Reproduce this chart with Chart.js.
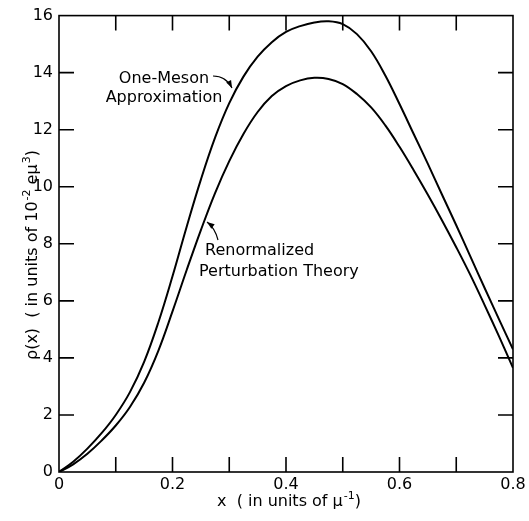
<!DOCTYPE html>
<html>
<head>
<meta charset="utf-8">
<script src="https://cdn.jsdelivr.net/npm/chart.js@4/dist/chart.umd.min.js"></script>
<style>
  html, body { margin: 0; padding: 0; background: #fff; }
  #wrap { width: 529px; height: 521px; }
</style>
</head>
<body>
<div id="wrap"><canvas id="myChart"></canvas></div>
<script>
const xValues = [0, 0.025, 0.05, 0.075, 0.1, 0.125, 0.15, 0.175, 0.2, 0.225, 0.25, 0.275, 0.3, 0.325, 0.35, 0.375,
  0.4, 0.425, 0.45, 0.475, 0.5, 0.525, 0.55, 0.575, 0.6, 0.625, 0.65, 0.675, 0.7, 0.725, 0.75, 0.775, 0.8];
const oneMeson = [0, 0.36, 0.82, 1.36, 2.0, 2.8, 3.86, 5.24, 6.86, 8.6, 10.25, 11.72, 12.93, 13.86, 14.56, 15.07,
  15.43, 15.63, 15.76, 15.8, 15.7, 15.35, 14.75, 13.9, 12.9, 11.85, 10.8, 9.72, 8.65, 7.55, 6.45, 5.37, 4.3];
const renormalized = [0, 0.27, 0.64, 1.1, 1.63, 2.28, 3.13, 4.25, 5.63, 7.08, 8.48, 9.78, 10.9, 11.85, 12.62, 13.18,
  13.53, 13.73, 13.82, 13.78, 13.6, 13.25, 12.78, 12.15, 11.4, 10.58, 9.72, 8.82, 7.88, 6.9, 5.85, 4.77, 3.65];
const xTickMarks = [0.1, 0.2, 0.3, 0.4, 0.5, 0.6, 0.7];
const yTickMarks = [2, 4, 6, 8, 10, 12, 14];

const FONT = '"DejaVu Sans", sans-serif';

function toPoints(values) {
  return values.map((v, i) => ({ x: xValues[i], y: v }));
}

function arrow(ctx, x0, y0, cx, cy, x1, y1) {
  ctx.beginPath();
  ctx.moveTo(x0, y0);
  ctx.quadraticCurveTo(cx, cy, x1, y1);
  ctx.stroke();
  const a = Math.atan2(y1 - cy, x1 - cx);
  ctx.beginPath();
  ctx.moveTo(x1, y1);
  ctx.lineTo(x1 - 8 * Math.cos(a - 0.35), y1 - 8 * Math.sin(a - 0.35));
  ctx.lineTo(x1 - 8 * Math.cos(a + 0.35), y1 - 8 * Math.sin(a + 0.35));
  ctx.closePath();
  ctx.fill();
}

// frame, inward ticks, labels and axis titles
const decorations = {
  id: 'decorations',
  afterDraw(chart) {
    const ctx = chart.ctx;
    const area = chart.chartArea;
    const xs = chart.scales.x;
    const ys = chart.scales.y;
    ctx.save();
    ctx.strokeStyle = '#000';
    ctx.fillStyle = '#000';
    ctx.lineWidth = 1.6;
    ctx.strokeRect(area.left, area.top, area.right - area.left, area.bottom - area.top);
    for (const t of xTickMarks) {
      const px = xs.getPixelForValue(t);
      ctx.beginPath();
      ctx.moveTo(px, area.bottom); ctx.lineTo(px, area.bottom - 15);
      ctx.moveTo(px, area.top); ctx.lineTo(px, area.top + 15);
      ctx.stroke();
    }
    for (const t of yTickMarks) {
      const py = ys.getPixelForValue(t);
      ctx.beginPath();
      ctx.moveTo(area.left, py); ctx.lineTo(area.left + 15, py);
      ctx.moveTo(area.right, py); ctx.lineTo(area.right - 15, py);
      ctx.stroke();
    }

    // curve labels
    ctx.font = '16px ' + FONT;
    ctx.textAlign = 'center';
    ctx.textBaseline = 'alphabetic';
    ctx.fillText('One-Meson', 164, 83);
    ctx.fillText('Approximation', 164, 102);
    ctx.textAlign = 'left';
    ctx.fillText('Renormalized', 205, 255);
    ctx.fillText('Perturbation Theory', 199, 276);
    ctx.lineWidth = 1.2;
    arrow(ctx, 213, 76, 226, 76, 232, 88);
    arrow(ctx, 218, 240, 215, 228, 207, 222);

    // x title
    let x = 217;
    const base = 506;
    ctx.font = '16px ' + FONT;
    ctx.fillText('x  ( in units of \u03bc', x, base);
    x += ctx.measureText('x  ( in units of \u03bc').width;
    ctx.font = '11px ' + FONT;
    ctx.fillText('-1', x + 1, base - 7);
    x += ctx.measureText('-1').width + 1;
    ctx.font = '16px ' + FONT;
    ctx.fillText(')', x, base);

    // y title, rotated
    ctx.translate(37, 360);
    ctx.rotate(-Math.PI / 2);
    const parts = [
      ['\u03c1(x)  ( in units of 10', 0],
      ['-2', 1],
      [' e\u03bc', 0],
      ['3', 1],
      [')', 0]
    ];
    let pos = 0;
    for (const [txt, sup] of parts) {
      ctx.font = (sup ? '11px ' : '16px ') + FONT;
      ctx.fillText(txt, pos + (sup ? 1 : 0), sup ? -7 : 0);
      pos += ctx.measureText(txt).width + (sup ? 1 : 0);
    }
    ctx.restore();
  }
};

new Chart(document.getElementById('myChart').getContext('2d'), {
  type: 'line',
  data: {
    datasets: [
      {
        label: 'One-Meson Approximation',
        data: toPoints(oneMeson),
        borderColor: '#000',
        borderWidth: 2,
        pointRadius: 0,
        tension: 0.4
      },
      {
        label: 'Renormalized Perturbation Theory',
        data: toPoints(renormalized),
        borderColor: '#000',
        borderWidth: 2,
        pointRadius: 0,
        tension: 0.4
      }
    ]
  },
  options: {
    responsive: true,
    maintainAspectRatio: false,
    animation: false,
    layout: { padding: { left: 0, right: 16, top: 10, bottom: 0 } },
    plugins: { legend: { display: false }, tooltip: { enabled: false } },
    scales: {
      x: {
        type: 'linear',
        min: 0,
        max: 0.8,
        grid: { display: false, drawTicks: false },
        border: { display: false },
        ticks: {
          stepSize: 0.2,
          padding: 3,
          color: '#000',
          font: { family: FONT, size: 16 },
          callback: v => (v === 0 ? '0' : v.toFixed(1))
        },
        afterFit: s => { s.height = 49; }
      },
      y: {
        min: 0,
        max: 16,
        grid: { display: false, drawTicks: false },
        border: { display: false },
        ticks: {
          stepSize: 2,
          padding: 6,
          color: '#000',
          font: { family: FONT, size: 16 }
        },
        afterFit: s => { s.width = 59; }
      }
    }
  },
  plugins: [decorations]
});
</script>
</body>
</html>
